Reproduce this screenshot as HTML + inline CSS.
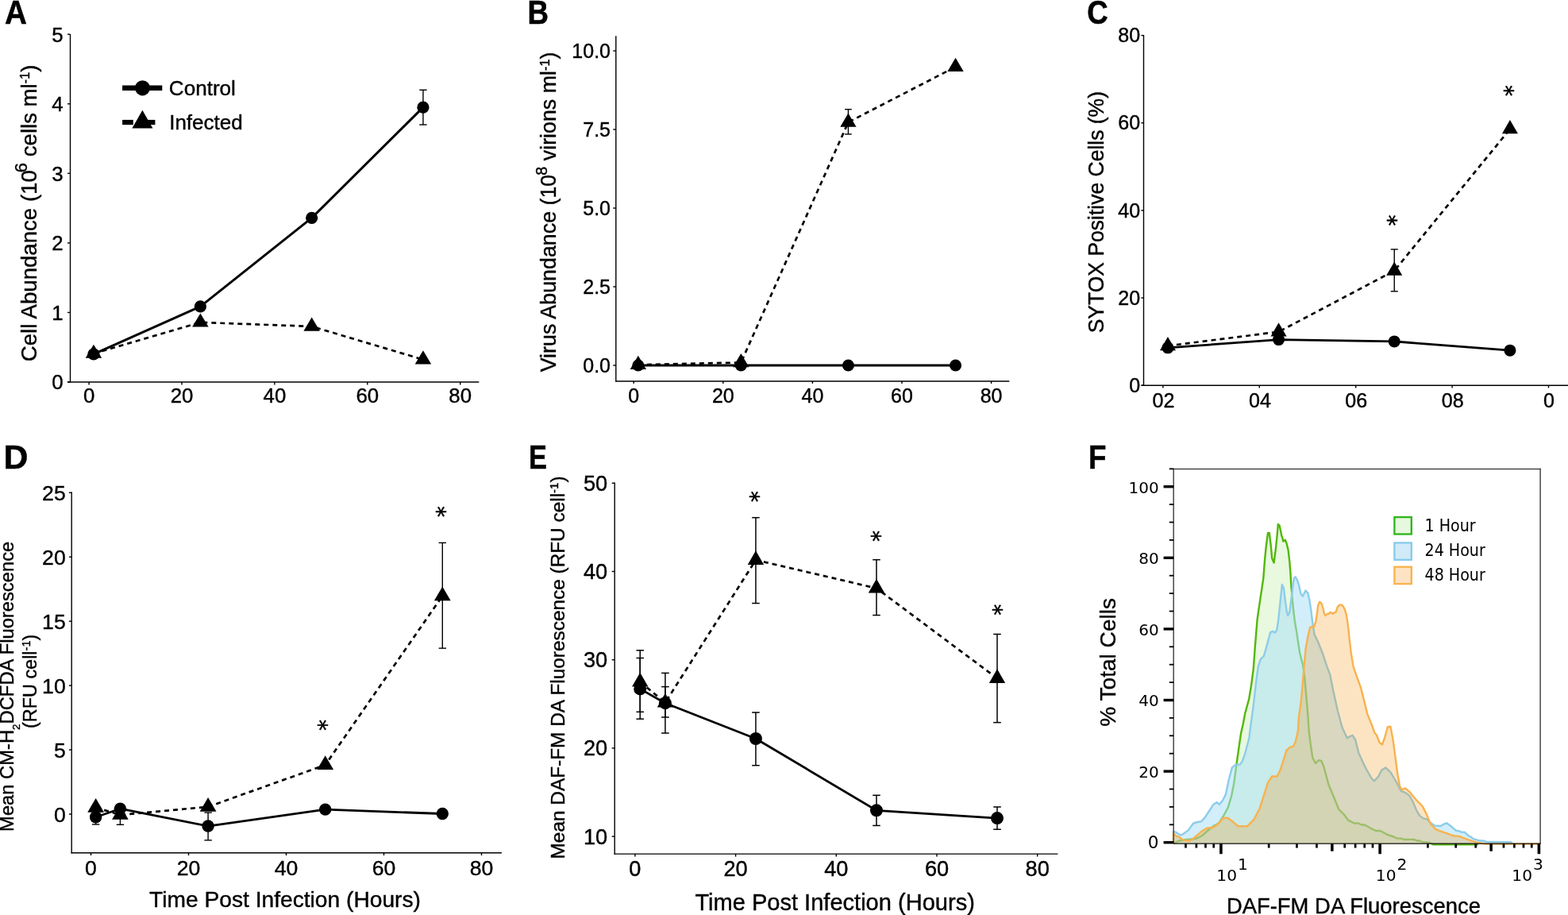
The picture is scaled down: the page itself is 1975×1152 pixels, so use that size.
<!DOCTYPE html><html><head><meta charset="utf-8"><title>Figure</title><style>html,body{margin:0;padding:0;background:#fff;overflow:hidden}svg{display:block}</style></head><body>
<svg width="1975" height="1152" viewBox="0 0 1975 1152">
<rect width="1975" height="1152" fill="#fff"/>
<text transform="translate(6.00,29.60) scale(0.9211428571428573,1)" font-family="'Liberation Sans', Arial, Helvetica, sans-serif" font-size="42" font-weight="bold" stroke="#000" stroke-width="0.5">A</text>
<text transform="translate(664.50,29.60) scale(0.8742857142857142,1)" font-family="'Liberation Sans', Arial, Helvetica, sans-serif" font-size="42" font-weight="bold" stroke="#000" stroke-width="0.5">B</text>
<text transform="translate(1369.30,29.60) scale(0.8742857142857142,1)" font-family="'Liberation Sans', Arial, Helvetica, sans-serif" font-size="42" font-weight="bold" stroke="#000" stroke-width="0.5">C</text>
<text transform="translate(4.50,590.00) scale(1.0190476190476192,1)" font-family="'Liberation Sans', Arial, Helvetica, sans-serif" font-size="42" font-weight="bold" stroke="#000" stroke-width="0.5">D</text>
<text transform="translate(666.00,589.60) scale(0.819047619047619,1)" font-family="'Liberation Sans', Arial, Helvetica, sans-serif" font-size="42" font-weight="bold" stroke="#000" stroke-width="0.5">E</text>
<text transform="translate(1371.00,589.60) scale(0.8761904761904763,1)" font-family="'Liberation Sans', Arial, Helvetica, sans-serif" font-size="42" font-weight="bold" stroke="#000" stroke-width="0.5">F</text>
<line x1="88.50" y1="43.00" x2="88.50" y2="481.60" stroke="#000" stroke-width="1.4" />
<line x1="85.00" y1="481.00" x2="603.30" y2="481.00" stroke="#000" stroke-width="1.4" />
<line x1="85.00" y1="481.00" x2="88.50" y2="481.00" stroke="#000" stroke-width="1.4" />
<text x="79.60" y="490.40" font-family="'Liberation Sans', Arial, Helvetica, sans-serif" font-size="25.8" font-weight="normal" text-anchor="end" fill="#000" stroke="#000" stroke-width="0.4" >0</text>
<line x1="85.00" y1="393.44" x2="88.50" y2="393.44" stroke="#000" stroke-width="1.4" />
<text x="79.60" y="402.84" font-family="'Liberation Sans', Arial, Helvetica, sans-serif" font-size="25.8" font-weight="normal" text-anchor="end" fill="#000" stroke="#000" stroke-width="0.4" >1</text>
<line x1="85.00" y1="305.88" x2="88.50" y2="305.88" stroke="#000" stroke-width="1.4" />
<text x="79.60" y="315.28" font-family="'Liberation Sans', Arial, Helvetica, sans-serif" font-size="25.8" font-weight="normal" text-anchor="end" fill="#000" stroke="#000" stroke-width="0.4" >2</text>
<line x1="85.00" y1="218.32" x2="88.50" y2="218.32" stroke="#000" stroke-width="1.4" />
<text x="79.60" y="227.72" font-family="'Liberation Sans', Arial, Helvetica, sans-serif" font-size="25.8" font-weight="normal" text-anchor="end" fill="#000" stroke="#000" stroke-width="0.4" >3</text>
<line x1="85.00" y1="130.76" x2="88.50" y2="130.76" stroke="#000" stroke-width="1.4" />
<text x="79.60" y="140.16" font-family="'Liberation Sans', Arial, Helvetica, sans-serif" font-size="25.8" font-weight="normal" text-anchor="end" fill="#000" stroke="#000" stroke-width="0.4" >4</text>
<line x1="85.00" y1="43.20" x2="88.50" y2="43.20" stroke="#000" stroke-width="1.4" />
<text x="79.60" y="52.60" font-family="'Liberation Sans', Arial, Helvetica, sans-serif" font-size="25.8" font-weight="normal" text-anchor="end" fill="#000" stroke="#000" stroke-width="0.4" >5</text>
<line x1="112.10" y1="481.00" x2="112.10" y2="484.60" stroke="#000" stroke-width="1.4" />
<text x="112.10" y="506.90" font-family="'Liberation Sans', Arial, Helvetica, sans-serif" font-size="25.8" font-weight="normal" text-anchor="middle" fill="#000" stroke="#000" stroke-width="0.4" >0</text>
<line x1="229.00" y1="481.00" x2="229.00" y2="484.60" stroke="#000" stroke-width="1.4" />
<text x="229.00" y="506.90" font-family="'Liberation Sans', Arial, Helvetica, sans-serif" font-size="25.8" font-weight="normal" text-anchor="middle" fill="#000" stroke="#000" stroke-width="0.4" >20</text>
<line x1="345.90" y1="481.00" x2="345.90" y2="484.60" stroke="#000" stroke-width="1.4" />
<text x="345.90" y="506.90" font-family="'Liberation Sans', Arial, Helvetica, sans-serif" font-size="25.8" font-weight="normal" text-anchor="middle" fill="#000" stroke="#000" stroke-width="0.4" >40</text>
<line x1="462.80" y1="481.00" x2="462.80" y2="484.60" stroke="#000" stroke-width="1.4" />
<text x="462.80" y="506.90" font-family="'Liberation Sans', Arial, Helvetica, sans-serif" font-size="25.8" font-weight="normal" text-anchor="middle" fill="#000" stroke="#000" stroke-width="0.4" >60</text>
<line x1="579.70" y1="481.00" x2="579.70" y2="484.60" stroke="#000" stroke-width="1.4" />
<text x="579.70" y="506.90" font-family="'Liberation Sans', Arial, Helvetica, sans-serif" font-size="25.8" font-weight="normal" text-anchor="middle" fill="#000" stroke="#000" stroke-width="0.4" >80</text>
<text transform="translate(45.80,455.20) rotate(-90)" x="0" y="0" font-family="'Liberation Sans', Arial, Helvetica, sans-serif" font-size="27.62" text-anchor="start" stroke="#000" stroke-width="0.4" >Cell Abundance (10<tspan dx="-3" dy="-11.9" font-size="22">6</tspan><tspan dy="11.9"> cells ml</tspan><tspan dy="-9.1" font-size="16.2">-1</tspan><tspan dy="9.1">)</tspan></text>
<line x1="154.10" y1="110.80" x2="204.30" y2="110.80" stroke="#000" stroke-width="6.4" />
<circle cx="179.50" cy="110.80" r="9.6" fill="#000"/>
<text x="212.80" y="120.10" font-family="'Liberation Sans', Arial, Helvetica, sans-serif" font-size="26.1" font-weight="normal" text-anchor="start" fill="#000" stroke="#000" stroke-width="0.4" >Control</text>
<line x1="154.10" y1="154.00" x2="167.80" y2="154.00" stroke="#000" stroke-width="6.2" />
<line x1="181.00" y1="154.00" x2="195.40" y2="154.00" stroke="#000" stroke-width="6.2" />
<polygon points="179.4,138.8 192.4,161.6 166.4,161.6" fill="#000"/>
<text x="213.20" y="163.20" font-family="'Liberation Sans', Arial, Helvetica, sans-serif" font-size="26.0" font-weight="normal" text-anchor="start" fill="#000" stroke="#000" stroke-width="0.4" >Infected</text>
<polyline points="117.94,445.10 252.38,405.87 392.66,410.95 532.94,452.72" fill="none" stroke="#000" stroke-width="2.7" stroke-linejoin="round" stroke-dasharray="6 5"/>
<polyline points="117.94,445.98 252.38,385.91 392.66,274.36 532.94,135.14" fill="none" stroke="#000" stroke-width="3.0" stroke-linejoin="round"/>
<line x1="532.94" y1="113.25" x2="532.94" y2="157.03" stroke="#000" stroke-width="1.4" />
<line x1="528.24" y1="113.25" x2="537.64" y2="113.25" stroke="#000" stroke-width="1.4" />
<line x1="528.24" y1="157.03" x2="537.64" y2="157.03" stroke="#000" stroke-width="1.4" />
<circle cx="117.94" cy="445.98" r="7.6" fill="#000"/>
<circle cx="252.38" cy="385.91" r="7.6" fill="#000"/>
<circle cx="392.66" cy="274.36" r="7.6" fill="#000"/>
<circle cx="532.94" cy="135.14" r="7.6" fill="#000"/>
<polygon points="117.94,433.63 128.19,450.83 107.69,450.83" fill="#000"/>
<polygon points="252.38,394.41 262.63,411.61 242.13,411.61" fill="#000"/>
<polygon points="392.66,399.49 402.91,416.69 382.41,416.69" fill="#000"/>
<polygon points="532.94,441.25 543.19,458.45 522.69,458.45" fill="#000"/>
<line x1="775.80" y1="45.30" x2="775.80" y2="480.60" stroke="#000" stroke-width="1.4" />
<line x1="775.20" y1="480.00" x2="1271.30" y2="480.00" stroke="#000" stroke-width="1.4" />
<line x1="772.30" y1="460.00" x2="775.80" y2="460.00" stroke="#000" stroke-width="1.4" />
<text x="769.00" y="469.10" font-family="'Liberation Sans', Arial, Helvetica, sans-serif" font-size="25.0" font-weight="normal" text-anchor="end" fill="#000" stroke="#000" stroke-width="0.4" >0.0</text>
<line x1="772.30" y1="361.00" x2="775.80" y2="361.00" stroke="#000" stroke-width="1.4" />
<text x="769.00" y="370.10" font-family="'Liberation Sans', Arial, Helvetica, sans-serif" font-size="25.0" font-weight="normal" text-anchor="end" fill="#000" stroke="#000" stroke-width="0.4" >2.5</text>
<line x1="772.30" y1="262.00" x2="775.80" y2="262.00" stroke="#000" stroke-width="1.4" />
<text x="769.00" y="271.10" font-family="'Liberation Sans', Arial, Helvetica, sans-serif" font-size="25.0" font-weight="normal" text-anchor="end" fill="#000" stroke="#000" stroke-width="0.4" >5.0</text>
<line x1="772.30" y1="163.00" x2="775.80" y2="163.00" stroke="#000" stroke-width="1.4" />
<text x="769.00" y="172.10" font-family="'Liberation Sans', Arial, Helvetica, sans-serif" font-size="25.0" font-weight="normal" text-anchor="end" fill="#000" stroke="#000" stroke-width="0.4" >7.5</text>
<line x1="772.30" y1="64.00" x2="775.80" y2="64.00" stroke="#000" stroke-width="1.4" />
<text x="769.00" y="73.10" font-family="'Liberation Sans', Arial, Helvetica, sans-serif" font-size="25.0" font-weight="normal" text-anchor="end" fill="#000" stroke="#000" stroke-width="0.4" >10.0</text>
<line x1="798.20" y1="480.00" x2="798.20" y2="483.00" stroke="#000" stroke-width="1.4" />
<text x="798.20" y="506.60" font-family="'Liberation Sans', Arial, Helvetica, sans-serif" font-size="25.0" font-weight="normal" text-anchor="middle" fill="#000" stroke="#000" stroke-width="0.4" >0</text>
<line x1="910.80" y1="480.00" x2="910.80" y2="483.00" stroke="#000" stroke-width="1.4" />
<text x="910.80" y="506.60" font-family="'Liberation Sans', Arial, Helvetica, sans-serif" font-size="25.0" font-weight="normal" text-anchor="middle" fill="#000" stroke="#000" stroke-width="0.4" >20</text>
<line x1="1023.40" y1="480.00" x2="1023.40" y2="483.00" stroke="#000" stroke-width="1.4" />
<text x="1023.40" y="506.60" font-family="'Liberation Sans', Arial, Helvetica, sans-serif" font-size="25.0" font-weight="normal" text-anchor="middle" fill="#000" stroke="#000" stroke-width="0.4" >40</text>
<line x1="1136.00" y1="480.00" x2="1136.00" y2="483.00" stroke="#000" stroke-width="1.4" />
<text x="1136.00" y="506.60" font-family="'Liberation Sans', Arial, Helvetica, sans-serif" font-size="25.0" font-weight="normal" text-anchor="middle" fill="#000" stroke="#000" stroke-width="0.4" >60</text>
<line x1="1248.60" y1="480.00" x2="1248.60" y2="483.00" stroke="#000" stroke-width="1.4" />
<text x="1248.60" y="506.60" font-family="'Liberation Sans', Arial, Helvetica, sans-serif" font-size="25.0" font-weight="normal" text-anchor="middle" fill="#000" stroke="#000" stroke-width="0.4" >80</text>
<text transform="translate(700.10,468.30) rotate(-90)" x="0" y="0" font-family="'Liberation Sans', Arial, Helvetica, sans-serif" font-size="26.84" text-anchor="start" stroke="#000" stroke-width="0.4" >Virus Abundance (10<tspan dx="-1" dy="-10.9" font-size="19.8">8</tspan><tspan dy="10.9"> virions ml</tspan><tspan dy="-8.4" font-size="16.2">-1</tspan><tspan dy="8.4">)</tspan></text>
<polyline points="803.83,459.21 933.32,456.44 1068.44,153.89 1203.56,84.20" fill="none" stroke="#000" stroke-width="2.7" stroke-linejoin="round" stroke-dasharray="6 5"/>
<polyline points="803.83,460.00 933.32,460.00 1068.44,460.00 1203.56,460.00" fill="none" stroke="#000" stroke-width="2.8" stroke-linejoin="round"/>
<line x1="1068.44" y1="137.66" x2="1068.44" y2="168.94" stroke="#000" stroke-width="1.4" />
<line x1="1064.09" y1="137.66" x2="1072.79" y2="137.66" stroke="#000" stroke-width="1.4" />
<line x1="1064.09" y1="168.94" x2="1072.79" y2="168.94" stroke="#000" stroke-width="1.4" />
<circle cx="803.83" cy="460.00" r="7.5" fill="#000"/>
<circle cx="933.32" cy="460.00" r="7.5" fill="#000"/>
<circle cx="1068.44" cy="460.00" r="7.5" fill="#000"/>
<circle cx="1203.56" cy="460.00" r="7.5" fill="#000"/>
<polygon points="803.83,447.74 813.98,464.94 793.68,464.94" fill="#000"/>
<polygon points="933.32,444.97 943.47,462.17 923.17,462.17" fill="#000"/>
<polygon points="1068.44,142.43 1078.59,159.63 1058.29,159.63" fill="#000"/>
<polygon points="1203.56,72.73 1213.71,89.93 1193.41,89.93" fill="#000"/>
<line x1="1440.50" y1="44.00" x2="1440.50" y2="485.80" stroke="#000" stroke-width="1.4" />
<line x1="1437.60" y1="485.20" x2="1975.00" y2="485.20" stroke="#000" stroke-width="1.4" />
<line x1="1437.40" y1="485.20" x2="1440.50" y2="485.20" stroke="#000" stroke-width="1.4" />
<text x="1436.10" y="493.90" font-family="'Liberation Sans', Arial, Helvetica, sans-serif" font-size="25.1" font-weight="normal" text-anchor="end" fill="#000" stroke="#000" stroke-width="0.4" >0</text>
<line x1="1437.40" y1="375.05" x2="1440.50" y2="375.05" stroke="#000" stroke-width="1.4" />
<text x="1436.10" y="383.75" font-family="'Liberation Sans', Arial, Helvetica, sans-serif" font-size="25.1" font-weight="normal" text-anchor="end" fill="#000" stroke="#000" stroke-width="0.4" >20</text>
<line x1="1437.40" y1="264.90" x2="1440.50" y2="264.90" stroke="#000" stroke-width="1.4" />
<text x="1436.10" y="273.60" font-family="'Liberation Sans', Arial, Helvetica, sans-serif" font-size="25.1" font-weight="normal" text-anchor="end" fill="#000" stroke="#000" stroke-width="0.4" >40</text>
<line x1="1437.40" y1="154.75" x2="1440.50" y2="154.75" stroke="#000" stroke-width="1.4" />
<text x="1436.10" y="163.45" font-family="'Liberation Sans', Arial, Helvetica, sans-serif" font-size="25.1" font-weight="normal" text-anchor="end" fill="#000" stroke="#000" stroke-width="0.4" >60</text>
<line x1="1437.40" y1="44.60" x2="1440.50" y2="44.60" stroke="#000" stroke-width="1.4" />
<text x="1436.10" y="53.30" font-family="'Liberation Sans', Arial, Helvetica, sans-serif" font-size="25.1" font-weight="normal" text-anchor="end" fill="#000" stroke="#000" stroke-width="0.4" >80</text>
<line x1="1464.90" y1="485.20" x2="1464.90" y2="488.40" stroke="#000" stroke-width="1.4" />
<text x="1465.50" y="512.60" font-family="'Liberation Sans', Arial, Helvetica, sans-serif" font-size="25.1" font-weight="normal" text-anchor="middle" fill="#000" stroke="#000" stroke-width="0.4" >02</text>
<line x1="1586.30" y1="485.20" x2="1586.30" y2="488.40" stroke="#000" stroke-width="1.4" />
<text x="1586.90" y="512.60" font-family="'Liberation Sans', Arial, Helvetica, sans-serif" font-size="25.1" font-weight="normal" text-anchor="middle" fill="#000" stroke="#000" stroke-width="0.4" >04</text>
<line x1="1707.70" y1="485.20" x2="1707.70" y2="488.40" stroke="#000" stroke-width="1.4" />
<text x="1708.30" y="512.60" font-family="'Liberation Sans', Arial, Helvetica, sans-serif" font-size="25.1" font-weight="normal" text-anchor="middle" fill="#000" stroke="#000" stroke-width="0.4" >06</text>
<line x1="1829.10" y1="485.20" x2="1829.10" y2="488.40" stroke="#000" stroke-width="1.4" />
<text x="1829.70" y="512.60" font-family="'Liberation Sans', Arial, Helvetica, sans-serif" font-size="25.1" font-weight="normal" text-anchor="middle" fill="#000" stroke="#000" stroke-width="0.4" >08</text>
<line x1="1950.50" y1="485.20" x2="1950.50" y2="488.40" stroke="#000" stroke-width="1.4" />
<text x="1951.10" y="512.60" font-family="'Liberation Sans', Arial, Helvetica, sans-serif" font-size="25.1" font-weight="normal" text-anchor="middle" fill="#000" stroke="#000" stroke-width="0.4" >0</text>
<text transform="translate(1389.70,419.30) rotate(-90) scale(1,1.07)" x="0" y="0" font-family="'Liberation Sans', Arial, Helvetica, sans-serif" font-size="26.5" text-anchor="start" stroke="#000" stroke-width="0.4" >SYTOX Positive Cells (%)</text>
<polyline points="1470.97,435.41 1610.58,417.73 1756.26,340.90 1901.94,162.46" fill="none" stroke="#000" stroke-width="2.7" stroke-linejoin="round" stroke-dasharray="6 5"/>
<polyline points="1470.97,437.84 1610.58,427.59 1756.26,429.90 1901.94,441.14" fill="none" stroke="#000" stroke-width="2.8" stroke-linejoin="round"/>
<line x1="1756.26" y1="313.92" x2="1756.26" y2="366.79" stroke="#000" stroke-width="1.4" />
<line x1="1751.76" y1="313.92" x2="1760.76" y2="313.92" stroke="#000" stroke-width="1.4" />
<line x1="1751.76" y1="366.79" x2="1760.76" y2="366.79" stroke="#000" stroke-width="1.4" />
<circle cx="1470.97" cy="437.84" r="7.5" fill="#000"/>
<circle cx="1610.58" cy="427.59" r="7.5" fill="#000"/>
<circle cx="1756.26" cy="429.90" r="7.5" fill="#000"/>
<circle cx="1901.94" cy="441.14" r="7.5" fill="#000"/>
<polygon points="1470.97,423.95 1480.97,441.15 1460.97,441.15" fill="#000"/>
<polygon points="1610.58,406.27 1620.58,423.47 1600.58,423.47" fill="#000"/>
<polygon points="1756.26,329.44 1766.26,346.64 1746.26,346.64" fill="#000"/>
<polygon points="1901.94,150.99 1911.94,168.19 1891.94,168.19" fill="#000"/>
<text transform="translate(1748.80,277.30) rotate(90)" x="0" y="0" font-family="'DejaVu Sans', Verdana, sans-serif" font-size="27.7" text-anchor="middle" dominant-baseline="central" stroke="#000" stroke-width="0.55">*</text>
<text transform="translate(1895.00,114.10) rotate(90)" x="0" y="0" font-family="'DejaVu Sans', Verdana, sans-serif" font-size="27.7" text-anchor="middle" dominant-baseline="central" stroke="#000" stroke-width="0.55">*</text>
<line x1="90.20" y1="619.60" x2="90.20" y2="1074.40" stroke="#000" stroke-width="1.4" />
<line x1="89.60" y1="1073.75" x2="631.90" y2="1073.75" stroke="#000" stroke-width="1.4" />
<line x1="86.90" y1="1025.00" x2="90.20" y2="1025.00" stroke="#000" stroke-width="1.4" />
<text x="82.70" y="1034.60" font-family="'Liberation Sans', Arial, Helvetica, sans-serif" font-size="26.6" font-weight="normal" text-anchor="end" fill="#000" stroke="#000" stroke-width="0.4" >0</text>
<line x1="86.90" y1="944.05" x2="90.20" y2="944.05" stroke="#000" stroke-width="1.4" />
<text x="82.70" y="953.65" font-family="'Liberation Sans', Arial, Helvetica, sans-serif" font-size="26.6" font-weight="normal" text-anchor="end" fill="#000" stroke="#000" stroke-width="0.4" >5</text>
<line x1="86.90" y1="863.10" x2="90.20" y2="863.10" stroke="#000" stroke-width="1.4" />
<text x="82.70" y="872.70" font-family="'Liberation Sans', Arial, Helvetica, sans-serif" font-size="26.6" font-weight="normal" text-anchor="end" fill="#000" stroke="#000" stroke-width="0.4" >10</text>
<line x1="86.90" y1="782.15" x2="90.20" y2="782.15" stroke="#000" stroke-width="1.4" />
<text x="82.70" y="791.75" font-family="'Liberation Sans', Arial, Helvetica, sans-serif" font-size="26.6" font-weight="normal" text-anchor="end" fill="#000" stroke="#000" stroke-width="0.4" >15</text>
<line x1="86.90" y1="701.20" x2="90.20" y2="701.20" stroke="#000" stroke-width="1.4" />
<text x="82.70" y="710.80" font-family="'Liberation Sans', Arial, Helvetica, sans-serif" font-size="26.6" font-weight="normal" text-anchor="end" fill="#000" stroke="#000" stroke-width="0.4" >20</text>
<line x1="86.90" y1="620.25" x2="90.20" y2="620.25" stroke="#000" stroke-width="1.4" />
<text x="82.70" y="629.85" font-family="'Liberation Sans', Arial, Helvetica, sans-serif" font-size="26.6" font-weight="normal" text-anchor="end" fill="#000" stroke="#000" stroke-width="0.4" >25</text>
<line x1="114.50" y1="1073.75" x2="114.50" y2="1077.00" stroke="#000" stroke-width="1.4" />
<text x="114.50" y="1102.20" font-family="'Liberation Sans', Arial, Helvetica, sans-serif" font-size="26.6" font-weight="normal" text-anchor="middle" fill="#000" stroke="#000" stroke-width="0.4" >0</text>
<line x1="237.50" y1="1073.75" x2="237.50" y2="1077.00" stroke="#000" stroke-width="1.4" />
<text x="237.50" y="1102.20" font-family="'Liberation Sans', Arial, Helvetica, sans-serif" font-size="26.6" font-weight="normal" text-anchor="middle" fill="#000" stroke="#000" stroke-width="0.4" >20</text>
<line x1="360.50" y1="1073.75" x2="360.50" y2="1077.00" stroke="#000" stroke-width="1.4" />
<text x="360.50" y="1102.20" font-family="'Liberation Sans', Arial, Helvetica, sans-serif" font-size="26.6" font-weight="normal" text-anchor="middle" fill="#000" stroke="#000" stroke-width="0.4" >40</text>
<line x1="483.50" y1="1073.75" x2="483.50" y2="1077.00" stroke="#000" stroke-width="1.4" />
<text x="483.50" y="1102.20" font-family="'Liberation Sans', Arial, Helvetica, sans-serif" font-size="26.6" font-weight="normal" text-anchor="middle" fill="#000" stroke="#000" stroke-width="0.4" >60</text>
<line x1="606.50" y1="1073.75" x2="606.50" y2="1077.00" stroke="#000" stroke-width="1.4" />
<text x="606.50" y="1102.20" font-family="'Liberation Sans', Arial, Helvetica, sans-serif" font-size="26.6" font-weight="normal" text-anchor="middle" fill="#000" stroke="#000" stroke-width="0.4" >80</text>
<text x="188.10" y="1142.10" font-family="'Liberation Sans', Arial, Helvetica, sans-serif" font-size="28.18" font-weight="normal" text-anchor="start" fill="#000" stroke="#000" stroke-width="0.4" >Time Post Infection (Hours)</text>
<text transform="translate(17.20,1046.90) rotate(-90)" x="0" y="0" font-family="'Liberation Sans', Arial, Helvetica, sans-serif" font-size="23.75" text-anchor="start" stroke="#000" stroke-width="0.4" >Mean CM-H<tspan dy="7.6" font-size="13.4">2</tspan><tspan dy="-7.6">DCFDA Fluorescence</tspan></text>
<text transform="translate(45.80,917.10) rotate(-90)" x="0" y="0" font-family="'Liberation Sans', Arial, Helvetica, sans-serif" font-size="23.45" text-anchor="start" stroke="#000" stroke-width="0.4" >(RFU cell<tspan dy="-7.74" font-size="14.54">-1</tspan><tspan dy="7.74">)</tspan></text>
<polyline points="120.65,1016.74 151.40,1025.97 262.10,1015.77 409.70,963.15 557.30,750.26" fill="none" stroke="#000" stroke-width="2.7" stroke-linejoin="round" stroke-dasharray="6 5"/>
<polyline points="120.65,1028.72 151.40,1018.20 262.10,1040.06 409.70,1019.17 557.30,1024.51" fill="none" stroke="#000" stroke-width="2.8" stroke-linejoin="round"/>
<line x1="120.65" y1="1019.50" x2="120.65" y2="1037.95" stroke="#000" stroke-width="1.4" />
<line x1="115.95" y1="1019.50" x2="125.35" y2="1019.50" stroke="#000" stroke-width="1.4" />
<line x1="115.95" y1="1037.95" x2="125.35" y2="1037.95" stroke="#000" stroke-width="1.4" />
<line x1="151.40" y1="1013.67" x2="151.40" y2="1038.28" stroke="#000" stroke-width="1.4" />
<line x1="146.70" y1="1013.67" x2="156.10" y2="1013.67" stroke="#000" stroke-width="1.4" />
<line x1="146.70" y1="1038.28" x2="156.10" y2="1038.28" stroke="#000" stroke-width="1.4" />
<line x1="262.10" y1="1023.06" x2="262.10" y2="1057.87" stroke="#000" stroke-width="1.4" />
<line x1="257.40" y1="1023.06" x2="266.80" y2="1023.06" stroke="#000" stroke-width="1.4" />
<line x1="257.40" y1="1057.87" x2="266.80" y2="1057.87" stroke="#000" stroke-width="1.4" />
<line x1="557.30" y1="683.39" x2="557.30" y2="816.15" stroke="#000" stroke-width="1.4" />
<line x1="552.60" y1="683.39" x2="562.00" y2="683.39" stroke="#000" stroke-width="1.4" />
<line x1="552.60" y1="816.15" x2="562.00" y2="816.15" stroke="#000" stroke-width="1.4" />
<circle cx="120.65" cy="1028.72" r="7.7" fill="#000"/>
<circle cx="151.40" cy="1018.20" r="7.7" fill="#000"/>
<circle cx="262.10" cy="1040.06" r="7.7" fill="#000"/>
<circle cx="409.70" cy="1019.17" r="7.7" fill="#000"/>
<circle cx="557.30" cy="1024.51" r="7.7" fill="#000"/>
<polygon points="120.65,1004.94 131.05,1022.64 110.25,1022.64" fill="#000"/>
<polygon points="151.40,1014.17 161.80,1031.87 141.00,1031.87" fill="#000"/>
<polygon points="262.10,1003.97 272.50,1021.67 251.70,1021.67" fill="#000"/>
<polygon points="409.70,951.35 420.10,969.05 399.30,969.05" fill="#000"/>
<polygon points="557.30,738.46 567.70,756.16 546.90,756.16" fill="#000"/>
<text transform="translate(401.80,912.80) rotate(90)" x="0" y="0" font-family="'DejaVu Sans', Verdana, sans-serif" font-size="27.7" text-anchor="middle" dominant-baseline="central" stroke="#000" stroke-width="0.55">*</text>
<text transform="translate(550.10,644.20) rotate(90)" x="0" y="0" font-family="'DejaVu Sans', Verdana, sans-serif" font-size="27.7" text-anchor="middle" dominant-baseline="central" stroke="#000" stroke-width="0.55">*</text>
<line x1="774.20" y1="607.50" x2="774.20" y2="1075.70" stroke="#000" stroke-width="1.4" />
<line x1="773.60" y1="1075.10" x2="1332.40" y2="1075.10" stroke="#000" stroke-width="1.4" />
<line x1="770.70" y1="1053.10" x2="774.20" y2="1053.10" stroke="#000" stroke-width="1.4" />
<text x="765.20" y="1062.50" font-family="'Liberation Sans', Arial, Helvetica, sans-serif" font-size="27.2" font-weight="normal" text-anchor="end" fill="#000" stroke="#000" stroke-width="0.4" >10</text>
<line x1="770.70" y1="941.90" x2="774.20" y2="941.90" stroke="#000" stroke-width="1.4" />
<text x="765.20" y="951.30" font-family="'Liberation Sans', Arial, Helvetica, sans-serif" font-size="27.2" font-weight="normal" text-anchor="end" fill="#000" stroke="#000" stroke-width="0.4" >20</text>
<line x1="770.70" y1="830.70" x2="774.20" y2="830.70" stroke="#000" stroke-width="1.4" />
<text x="765.20" y="840.10" font-family="'Liberation Sans', Arial, Helvetica, sans-serif" font-size="27.2" font-weight="normal" text-anchor="end" fill="#000" stroke="#000" stroke-width="0.4" >30</text>
<line x1="770.70" y1="719.50" x2="774.20" y2="719.50" stroke="#000" stroke-width="1.4" />
<text x="765.20" y="728.90" font-family="'Liberation Sans', Arial, Helvetica, sans-serif" font-size="27.2" font-weight="normal" text-anchor="end" fill="#000" stroke="#000" stroke-width="0.4" >40</text>
<line x1="770.70" y1="608.30" x2="774.20" y2="608.30" stroke="#000" stroke-width="1.4" />
<text x="765.20" y="617.70" font-family="'Liberation Sans', Arial, Helvetica, sans-serif" font-size="27.2" font-weight="normal" text-anchor="end" fill="#000" stroke="#000" stroke-width="0.4" >50</text>
<line x1="799.90" y1="1075.10" x2="799.90" y2="1078.60" stroke="#000" stroke-width="1.4" />
<text x="799.90" y="1103.40" font-family="'Liberation Sans', Arial, Helvetica, sans-serif" font-size="27.2" font-weight="normal" text-anchor="middle" fill="#000" stroke="#000" stroke-width="0.4" >0</text>
<line x1="926.60" y1="1075.10" x2="926.60" y2="1078.60" stroke="#000" stroke-width="1.4" />
<text x="926.60" y="1103.40" font-family="'Liberation Sans', Arial, Helvetica, sans-serif" font-size="27.2" font-weight="normal" text-anchor="middle" fill="#000" stroke="#000" stroke-width="0.4" >20</text>
<line x1="1053.30" y1="1075.10" x2="1053.30" y2="1078.60" stroke="#000" stroke-width="1.4" />
<text x="1053.30" y="1103.40" font-family="'Liberation Sans', Arial, Helvetica, sans-serif" font-size="27.2" font-weight="normal" text-anchor="middle" fill="#000" stroke="#000" stroke-width="0.4" >40</text>
<line x1="1180.00" y1="1075.10" x2="1180.00" y2="1078.60" stroke="#000" stroke-width="1.4" />
<text x="1180.00" y="1103.40" font-family="'Liberation Sans', Arial, Helvetica, sans-serif" font-size="27.2" font-weight="normal" text-anchor="middle" fill="#000" stroke="#000" stroke-width="0.4" >60</text>
<line x1="1306.70" y1="1075.10" x2="1306.70" y2="1078.60" stroke="#000" stroke-width="1.4" />
<text x="1306.70" y="1103.40" font-family="'Liberation Sans', Arial, Helvetica, sans-serif" font-size="27.2" font-weight="normal" text-anchor="middle" fill="#000" stroke="#000" stroke-width="0.4" >80</text>
<text x="875.40" y="1146.00" font-family="'Liberation Sans', Arial, Helvetica, sans-serif" font-size="29.05" font-weight="normal" text-anchor="start" fill="#000" stroke="#000" stroke-width="0.4" >Time Post Infection (Hours)</text>
<text transform="translate(710.60,1081.45) rotate(-90)" x="0" y="0" font-family="'Liberation Sans', Arial, Helvetica, sans-serif" font-size="24.38" text-anchor="start" stroke="#000" stroke-width="0.4" >Mean DAF-FM DA Fluorescence (RFU cell<tspan dy="-8.05" font-size="15.12">-1</tspan><tspan dy="8.05">)</tspan></text>
<polyline points="806.24,858.50 837.91,884.63 951.94,705.04 1103.98,740.63 1256.02,854.05" fill="none" stroke="#000" stroke-width="2.7" stroke-linejoin="round" stroke-dasharray="6 5"/>
<polyline points="806.24,867.40 837.91,885.19 951.94,930.00 1103.98,1020.30 1256.02,1030.08" fill="none" stroke="#000" stroke-width="2.8" stroke-linejoin="round"/>
<line x1="806.24" y1="818.80" x2="806.24" y2="896.31" stroke="#000" stroke-width="1.5" />
<line x1="801.44" y1="818.80" x2="811.03" y2="818.80" stroke="#000" stroke-width="1.5" />
<line x1="801.44" y1="896.31" x2="811.03" y2="896.31" stroke="#000" stroke-width="1.5" />
<line x1="837.91" y1="847.38" x2="837.91" y2="923.00" stroke="#000" stroke-width="1.5" />
<line x1="833.11" y1="847.38" x2="842.71" y2="847.38" stroke="#000" stroke-width="1.5" />
<line x1="833.11" y1="923.00" x2="842.71" y2="923.00" stroke="#000" stroke-width="1.5" />
<line x1="951.94" y1="651.67" x2="951.94" y2="759.53" stroke="#000" stroke-width="1.5" />
<line x1="947.14" y1="651.67" x2="956.74" y2="651.67" stroke="#000" stroke-width="1.5" />
<line x1="947.14" y1="759.53" x2="956.74" y2="759.53" stroke="#000" stroke-width="1.5" />
<line x1="1103.98" y1="704.71" x2="1103.98" y2="774.54" stroke="#000" stroke-width="1.5" />
<line x1="1099.18" y1="704.71" x2="1108.78" y2="704.71" stroke="#000" stroke-width="1.5" />
<line x1="1099.18" y1="774.54" x2="1108.78" y2="774.54" stroke="#000" stroke-width="1.5" />
<line x1="1256.02" y1="798.45" x2="1256.02" y2="909.65" stroke="#000" stroke-width="1.5" />
<line x1="1251.22" y1="798.45" x2="1260.82" y2="798.45" stroke="#000" stroke-width="1.5" />
<line x1="1251.22" y1="909.65" x2="1260.82" y2="909.65" stroke="#000" stroke-width="1.5" />
<line x1="806.24" y1="828.48" x2="806.24" y2="905.20" stroke="#000" stroke-width="1.5" />
<line x1="801.44" y1="828.48" x2="811.03" y2="828.48" stroke="#000" stroke-width="1.5" />
<line x1="801.44" y1="905.20" x2="811.03" y2="905.20" stroke="#000" stroke-width="1.5" />
<line x1="837.91" y1="864.62" x2="837.91" y2="902.98" stroke="#000" stroke-width="1.5" />
<line x1="833.11" y1="864.62" x2="842.71" y2="864.62" stroke="#000" stroke-width="1.5" />
<line x1="833.11" y1="902.98" x2="842.71" y2="902.98" stroke="#000" stroke-width="1.5" />
<line x1="951.94" y1="896.98" x2="951.94" y2="963.70" stroke="#000" stroke-width="1.5" />
<line x1="947.14" y1="896.98" x2="956.74" y2="896.98" stroke="#000" stroke-width="1.5" />
<line x1="947.14" y1="963.70" x2="956.74" y2="963.70" stroke="#000" stroke-width="1.5" />
<line x1="1103.98" y1="1001.28" x2="1103.98" y2="1039.42" stroke="#000" stroke-width="1.5" />
<line x1="1099.18" y1="1001.28" x2="1108.78" y2="1001.28" stroke="#000" stroke-width="1.5" />
<line x1="1099.18" y1="1039.42" x2="1108.78" y2="1039.42" stroke="#000" stroke-width="1.5" />
<line x1="1256.02" y1="1015.96" x2="1256.02" y2="1044.20" stroke="#000" stroke-width="1.5" />
<line x1="1251.22" y1="1015.96" x2="1260.82" y2="1015.96" stroke="#000" stroke-width="1.5" />
<line x1="1251.22" y1="1044.20" x2="1260.82" y2="1044.20" stroke="#000" stroke-width="1.5" />
<circle cx="806.24" cy="867.40" r="8.0" fill="#000"/>
<circle cx="837.91" cy="885.19" r="8.0" fill="#000"/>
<circle cx="951.94" cy="930.00" r="8.0" fill="#000"/>
<circle cx="1103.98" cy="1020.30" r="8.0" fill="#000"/>
<circle cx="1256.02" cy="1030.08" r="8.0" fill="#000"/>
<polygon points="806.24,846.63 816.44,864.43 796.03,864.43" fill="#000"/>
<polygon points="837.91,872.77 848.11,890.57 827.71,890.57" fill="#000"/>
<polygon points="951.94,693.18 962.14,710.98 941.74,710.98" fill="#000"/>
<polygon points="1103.98,728.76 1114.18,746.56 1093.78,746.56" fill="#000"/>
<polygon points="1256.02,842.19 1266.22,859.99 1245.82,859.99" fill="#000"/>
<text transform="translate(945.90,625.20) rotate(90)" x="0" y="0" font-family="'DejaVu Sans', Verdana, sans-serif" font-size="27.7" text-anchor="middle" dominant-baseline="central" stroke="#000" stroke-width="0.55">*</text>
<text transform="translate(1098.80,674.90) rotate(90)" x="0" y="0" font-family="'DejaVu Sans', Verdana, sans-serif" font-size="27.7" text-anchor="middle" dominant-baseline="central" stroke="#000" stroke-width="0.55">*</text>
<text transform="translate(1251.10,767.60) rotate(90)" x="0" y="0" font-family="'DejaVu Sans', Verdana, sans-serif" font-size="27.7" text-anchor="middle" dominant-baseline="central" stroke="#000" stroke-width="0.55">*</text>
<g>
<polygon points="1478.00,1062.00 1478.90,1061.60 1484.80,1058.70 1492.10,1057.20 1499.50,1056.50 1506.90,1055.70 1514.30,1052.00 1521.70,1045.40 1529.00,1039.50 1535.00,1036.50 1540.80,1027.70 1546.80,1016.60 1551.20,1001.80 1554.10,987.10 1557.10,964.90 1560.00,944.30 1563.00,923.60 1565.60,912.00 1568.30,898.00 1573.20,880.00 1576.00,863.30 1578.75,842.50 1580.80,814.70 1583.60,780.00 1586.00,763.30 1591.30,728.10 1593.10,704.70 1594.60,689.50 1596.10,677.40 1597.00,671.00 1598.80,671.00 1600.70,686.50 1602.20,702.90 1604.60,708.40 1606.70,692.60 1608.60,674.30 1609.80,660.00 1611.60,661.60 1614.00,673.10 1616.50,681.60 1618.90,679.80 1620.70,684.70 1622.60,692.60 1624.40,707.80 1625.30,720.00 1626.40,737.40 1627.80,754.70 1629.20,768.60 1630.90,782.50 1633.30,796.40 1637.10,821.70 1641.25,838.30 1643.30,853.60 1645.40,877.20 1647.50,902.20 1648.60,920.00 1650.60,935.60 1653.20,953.90 1657.10,961.00 1661.00,957.10 1664.30,957.80 1667.50,965.60 1673.40,987.70 1679.90,1003.30 1686.40,1019.00 1692.90,1025.50 1698.10,1032.60 1705.90,1036.50 1711.10,1036.50 1715.00,1038.50 1719.00,1038.50 1728.10,1043.70 1733.30,1046.00 1738.50,1046.00 1747.60,1050.90 1755.40,1053.50 1759.30,1055.40 1765.80,1055.70 1768.40,1057.00 1781.20,1056.90 1784.00,1058.30 1788.90,1058.80 1791.70,1060.20 1800.40,1060.70 1805.00,1063.20 1862.00,1063.20 1862.00,1062.30 1478.00,1062.30" fill="rgb(75,205,2)" fill-opacity="0.126"/>
<polyline points="1478.00,1062.00 1478.90,1061.60 1484.80,1058.70 1492.10,1057.20 1499.50,1056.50 1506.90,1055.70 1514.30,1052.00 1521.70,1045.40 1529.00,1039.50 1535.00,1036.50 1540.80,1027.70 1546.80,1016.60 1551.20,1001.80 1554.10,987.10 1557.10,964.90 1560.00,944.30 1563.00,923.60 1565.60,912.00 1568.30,898.00 1573.20,880.00 1576.00,863.30 1578.75,842.50 1580.80,814.70 1583.60,780.00 1586.00,763.30 1591.30,728.10 1593.10,704.70 1594.60,689.50 1596.10,677.40 1597.00,671.00 1598.80,671.00 1600.70,686.50 1602.20,702.90 1604.60,708.40 1606.70,692.60 1608.60,674.30 1609.80,660.00 1611.60,661.60 1614.00,673.10 1616.50,681.60 1618.90,679.80 1620.70,684.70 1622.60,692.60 1624.40,707.80 1625.30,720.00 1626.40,737.40 1627.80,754.70 1629.20,768.60 1630.90,782.50 1633.30,796.40 1637.10,821.70 1641.25,838.30 1643.30,853.60 1645.40,877.20 1647.50,902.20 1648.60,920.00 1650.60,935.60 1653.20,953.90 1657.10,961.00 1661.00,957.10 1664.30,957.80 1667.50,965.60 1673.40,987.70 1679.90,1003.30 1686.40,1019.00 1692.90,1025.50 1698.10,1032.60 1705.90,1036.50 1711.10,1036.50 1715.00,1038.50 1719.00,1038.50 1728.10,1043.70 1733.30,1046.00 1738.50,1046.00 1747.60,1050.90 1755.40,1053.50 1759.30,1055.40 1765.80,1055.70 1768.40,1057.00 1781.20,1056.90 1784.00,1058.30 1788.90,1058.80 1791.70,1060.20 1800.40,1060.70 1805.00,1063.20 1862.00,1063.20" fill="none" stroke="#52b80a" stroke-width="2.4" stroke-linejoin="round"/>
<polygon points="1478.00,1062.00 1478.10,1046.90 1481.10,1047.60 1484.00,1049.80 1487.00,1051.30 1490.70,1049.80 1496.60,1045.40 1503.20,1036.50 1508.40,1035.00 1512.80,1034.30 1517.20,1029.90 1523.10,1021.00 1528.30,1012.90 1532.70,1010.00 1535.70,1012.90 1540.10,1007.70 1543.80,1000.40 1547.50,982.70 1551.90,966.40 1556.30,962.70 1561.50,962.70 1564.50,959.00 1568.20,948.70 1573.30,929.50 1575.30,913.30 1578.00,893.90 1580.80,870.30 1582.90,852.20 1585.00,838.30 1587.80,830.00 1591.90,825.80 1594.70,816.10 1598.90,800.80 1600.00,796.40 1602.80,794.70 1605.90,796.70 1608.30,792.90 1610.40,779.00 1612.50,758.20 1614.90,736.00 1617.00,740.80 1619.10,758.20 1620.80,770.00 1622.20,774.90 1624.30,770.70 1626.40,754.70 1628.50,737.40 1629.90,728.30 1631.60,726.25 1634.00,730.40 1636.10,736.70 1638.50,747.80 1641.00,750.60 1644.40,743.60 1647.20,746.40 1649.30,754.70 1651.40,768.60 1653.50,786.00 1655.80,799.40 1660.00,807.80 1665.60,821.70 1671.10,838.30 1675.30,849.40 1679.40,870.30 1685.00,895.30 1690.60,916.10 1696.80,929.30 1700.30,927.20 1703.75,925.80 1707.20,931.40 1711.10,947.20 1716.70,959.70 1720.80,968.10 1727.10,979.20 1730.60,983.30 1736.10,977.80 1740.30,969.40 1745.10,966.40 1751.40,972.20 1756.90,981.25 1761.10,988.90 1764.60,995.80 1770.10,997.90 1775.00,1001.40 1779.20,1008.50 1784.00,1019.80 1787.90,1026.60 1792.70,1030.40 1797.50,1031.40 1802.30,1036.20 1807.10,1039.50 1814.80,1040.00 1817.70,1038.10 1822.10,1036.20 1827.30,1040.00 1834.10,1045.80 1837.90,1046.30 1840.80,1047.70 1844.70,1047.70 1849.50,1052.00 1852.40,1053.50 1856.20,1056.40 1860.00,1057.30 1862.90,1058.30 1869.70,1058.80 1872.60,1060.00 1903.30,1060.20 1905.00,1062.00" fill="rgb(173,224,246)" fill-opacity="0.545"/>
<polyline points="1478.00,1062.00 1478.10,1046.90 1481.10,1047.60 1484.00,1049.80 1487.00,1051.30 1490.70,1049.80 1496.60,1045.40 1503.20,1036.50 1508.40,1035.00 1512.80,1034.30 1517.20,1029.90 1523.10,1021.00 1528.30,1012.90 1532.70,1010.00 1535.70,1012.90 1540.10,1007.70 1543.80,1000.40 1547.50,982.70 1551.90,966.40 1556.30,962.70 1561.50,962.70 1564.50,959.00 1568.20,948.70 1573.30,929.50 1575.30,913.30 1578.00,893.90 1580.80,870.30 1582.90,852.20 1585.00,838.30 1587.80,830.00 1591.90,825.80 1594.70,816.10 1598.90,800.80 1600.00,796.40 1602.80,794.70 1605.90,796.70 1608.30,792.90 1610.40,779.00 1612.50,758.20 1614.90,736.00 1617.00,740.80 1619.10,758.20 1620.80,770.00 1622.20,774.90 1624.30,770.70 1626.40,754.70 1628.50,737.40 1629.90,728.30 1631.60,726.25 1634.00,730.40 1636.10,736.70 1638.50,747.80 1641.00,750.60 1644.40,743.60 1647.20,746.40 1649.30,754.70 1651.40,768.60 1653.50,786.00 1655.80,799.40 1660.00,807.80 1665.60,821.70 1671.10,838.30 1675.30,849.40 1679.40,870.30 1685.00,895.30 1690.60,916.10 1696.80,929.30 1700.30,927.20 1703.75,925.80 1707.20,931.40 1711.10,947.20 1716.70,959.70 1720.80,968.10 1727.10,979.20 1730.60,983.30 1736.10,977.80 1740.30,969.40 1745.10,966.40 1751.40,972.20 1756.90,981.25 1761.10,988.90 1764.60,995.80 1770.10,997.90 1775.00,1001.40 1779.20,1008.50 1784.00,1019.80 1787.90,1026.60 1792.70,1030.40 1797.50,1031.40 1802.30,1036.20 1807.10,1039.50 1814.80,1040.00 1817.70,1038.10 1822.10,1036.20 1827.30,1040.00 1834.10,1045.80 1837.90,1046.30 1840.80,1047.70 1844.70,1047.70 1849.50,1052.00 1852.40,1053.50 1856.20,1056.40 1860.00,1057.30 1862.90,1058.30 1869.70,1058.80 1872.60,1060.00 1903.30,1060.20 1905.00,1062.00" fill="none" stroke="#8dcdea" stroke-width="2.4" stroke-linejoin="round"/>
<polygon points="1478.00,1062.00 1478.00,1049.10 1481.80,1052.80 1484.80,1053.50 1488.50,1056.50 1492.10,1057.90 1498.00,1058.70 1504.00,1055.00 1514.30,1046.10 1520.90,1042.40 1528.30,1041.70 1533.50,1038.00 1540.80,1029.90 1546.00,1029.60 1552.70,1034.30 1559.30,1040.20 1571.10,1040.20 1579.20,1032.10 1586.60,1018.10 1596.90,985.60 1602.10,977.50 1608.70,977.50 1613.20,967.90 1620.60,944.30 1625.00,940.60 1628.70,939.90 1631.70,934.30 1635.00,920.00 1635.70,905.00 1638.50,885.60 1640.60,863.30 1642.60,838.30 1644.70,816.10 1647.50,800.80 1650.00,790.00 1652.10,789.00 1655.20,789.00 1657.30,782.70 1658.90,772.30 1660.20,761.90 1662.20,757.70 1664.60,759.80 1666.10,764.50 1668.00,772.80 1669.50,774.90 1671.90,772.80 1673.70,772.80 1675.50,771.00 1677.10,771.25 1678.60,772.80 1680.70,771.25 1682.60,770.70 1684.60,764.50 1686.50,762.40 1688.50,761.40 1690.60,761.90 1692.20,764.00 1694.30,768.60 1695.80,773.90 1697.10,781.70 1698.40,792.10 1699.20,800.00 1701.70,821.70 1704.40,838.30 1708.60,850.80 1713.90,865.30 1718.10,881.90 1722.20,898.60 1727.80,912.50 1731.25,922.20 1734.00,925.70 1737.50,934.70 1741.00,937.50 1744.40,927.80 1747.90,915.30 1751.40,914.60 1754.90,933.30 1757.60,954.20 1760.40,975.00 1763.20,990.30 1766.00,994.40 1770.10,992.40 1775.70,997.20 1779.20,1001.40 1784.00,1007.30 1791.70,1015.00 1796.60,1024.60 1801.40,1036.20 1804.30,1040.00 1808.10,1043.90 1812.90,1045.80 1817.70,1047.70 1822.50,1049.20 1827.30,1051.10 1832.20,1052.50 1838.90,1053.00 1842.70,1054.90 1848.50,1056.90 1854.30,1058.80 1860.00,1060.70 1863.90,1061.20 1870.00,1062.60 1940.00,1062.60" fill="rgb(244,142,0)" fill-opacity="0.234"/>
<polyline points="1478.00,1062.00 1478.00,1049.10 1481.80,1052.80 1484.80,1053.50 1488.50,1056.50 1492.10,1057.90 1498.00,1058.70 1504.00,1055.00 1514.30,1046.10 1520.90,1042.40 1528.30,1041.70 1533.50,1038.00 1540.80,1029.90 1546.00,1029.60 1552.70,1034.30 1559.30,1040.20 1571.10,1040.20 1579.20,1032.10 1586.60,1018.10 1596.90,985.60 1602.10,977.50 1608.70,977.50 1613.20,967.90 1620.60,944.30 1625.00,940.60 1628.70,939.90 1631.70,934.30 1635.00,920.00 1635.70,905.00 1638.50,885.60 1640.60,863.30 1642.60,838.30 1644.70,816.10 1647.50,800.80 1650.00,790.00 1652.10,789.00 1655.20,789.00 1657.30,782.70 1658.90,772.30 1660.20,761.90 1662.20,757.70 1664.60,759.80 1666.10,764.50 1668.00,772.80 1669.50,774.90 1671.90,772.80 1673.70,772.80 1675.50,771.00 1677.10,771.25 1678.60,772.80 1680.70,771.25 1682.60,770.70 1684.60,764.50 1686.50,762.40 1688.50,761.40 1690.60,761.90 1692.20,764.00 1694.30,768.60 1695.80,773.90 1697.10,781.70 1698.40,792.10 1699.20,800.00 1701.70,821.70 1704.40,838.30 1708.60,850.80 1713.90,865.30 1718.10,881.90 1722.20,898.60 1727.80,912.50 1731.25,922.20 1734.00,925.70 1737.50,934.70 1741.00,937.50 1744.40,927.80 1747.90,915.30 1751.40,914.60 1754.90,933.30 1757.60,954.20 1760.40,975.00 1763.20,990.30 1766.00,994.40 1770.10,992.40 1775.70,997.20 1779.20,1001.40 1784.00,1007.30 1791.70,1015.00 1796.60,1024.60 1801.40,1036.20 1804.30,1040.00 1808.10,1043.90 1812.90,1045.80 1817.70,1047.70 1822.50,1049.20 1827.30,1051.10 1832.20,1052.50 1838.90,1053.00 1842.70,1054.90 1848.50,1056.90 1854.30,1058.80 1860.00,1060.70 1863.90,1061.20 1870.00,1062.60 1940.00,1062.60" fill="none" stroke="#f8b24e" stroke-width="2.4" stroke-linejoin="round"/>
</g>
<line x1="1478.20" y1="590.40" x2="1940.80" y2="590.40" stroke="#484644" stroke-width="1.5" />
<line x1="1940.10" y1="589.70" x2="1940.10" y2="1062.20" stroke="#484644" stroke-width="1.5" />
<line x1="1478.20" y1="589.70" x2="1478.20" y2="1062.20" stroke="#484644" stroke-width="1.5" />
<line x1="1478.20" y1="1062.20" x2="1940.70" y2="1062.20" stroke="#111" stroke-width="1.3" />
<line x1="1465.60" y1="1060.70" x2="1478.20" y2="1060.70" stroke="#000" stroke-width="3.4" />
<text x="1459.60" y="1067.60" font-family="'DejaVu Sans', Verdana, sans-serif" font-size="21.6" font-weight="normal" text-anchor="end" fill="#000" >0</text>
<line x1="1472.80" y1="1038.30" x2="1478.20" y2="1038.30" stroke="#000" stroke-width="1.8" />
<line x1="1472.80" y1="1015.90" x2="1478.20" y2="1015.90" stroke="#000" stroke-width="1.8" />
<line x1="1472.80" y1="993.50" x2="1478.20" y2="993.50" stroke="#000" stroke-width="1.8" />
<line x1="1465.60" y1="971.10" x2="1478.20" y2="971.10" stroke="#000" stroke-width="3.4" />
<text x="1459.80" y="979.00" font-family="'DejaVu Sans', Verdana, sans-serif" font-size="20.0" font-weight="normal" text-anchor="end" fill="#000" >20</text>
<line x1="1472.80" y1="948.70" x2="1478.20" y2="948.70" stroke="#000" stroke-width="1.8" />
<line x1="1472.80" y1="926.30" x2="1478.20" y2="926.30" stroke="#000" stroke-width="1.8" />
<line x1="1472.80" y1="903.90" x2="1478.20" y2="903.90" stroke="#000" stroke-width="1.8" />
<line x1="1465.60" y1="881.50" x2="1478.20" y2="881.50" stroke="#000" stroke-width="3.4" />
<text x="1459.80" y="889.40" font-family="'DejaVu Sans', Verdana, sans-serif" font-size="20.0" font-weight="normal" text-anchor="end" fill="#000" >40</text>
<line x1="1472.80" y1="859.10" x2="1478.20" y2="859.10" stroke="#000" stroke-width="1.8" />
<line x1="1472.80" y1="836.70" x2="1478.20" y2="836.70" stroke="#000" stroke-width="1.8" />
<line x1="1472.80" y1="814.30" x2="1478.20" y2="814.30" stroke="#000" stroke-width="1.8" />
<line x1="1465.60" y1="791.90" x2="1478.20" y2="791.90" stroke="#000" stroke-width="3.4" />
<text x="1459.80" y="799.80" font-family="'DejaVu Sans', Verdana, sans-serif" font-size="20.0" font-weight="normal" text-anchor="end" fill="#000" >60</text>
<line x1="1472.80" y1="769.50" x2="1478.20" y2="769.50" stroke="#000" stroke-width="1.8" />
<line x1="1472.80" y1="747.10" x2="1478.20" y2="747.10" stroke="#000" stroke-width="1.8" />
<line x1="1472.80" y1="724.70" x2="1478.20" y2="724.70" stroke="#000" stroke-width="1.8" />
<line x1="1465.60" y1="702.30" x2="1478.20" y2="702.30" stroke="#000" stroke-width="3.4" />
<text x="1459.80" y="710.20" font-family="'DejaVu Sans', Verdana, sans-serif" font-size="20.0" font-weight="normal" text-anchor="end" fill="#000" >80</text>
<line x1="1472.80" y1="679.90" x2="1478.20" y2="679.90" stroke="#000" stroke-width="1.8" />
<line x1="1472.80" y1="657.50" x2="1478.20" y2="657.50" stroke="#000" stroke-width="1.8" />
<line x1="1472.80" y1="635.10" x2="1478.20" y2="635.10" stroke="#000" stroke-width="1.8" />
<line x1="1465.60" y1="612.70" x2="1478.20" y2="612.70" stroke="#000" stroke-width="3.4" />
<text x="1459.80" y="620.60" font-family="'DejaVu Sans', Verdana, sans-serif" font-size="20.0" font-weight="normal" text-anchor="end" fill="#000" >100</text>
<line x1="1472.80" y1="590.30" x2="1478.20" y2="590.30" stroke="#000" stroke-width="1.8" />
<line x1="1493.47" y1="1062.20" x2="1493.47" y2="1067.50" stroke="#000" stroke-width="2.7" />
<line x1="1506.88" y1="1062.20" x2="1506.88" y2="1067.50" stroke="#000" stroke-width="2.7" />
<line x1="1518.49" y1="1062.20" x2="1518.49" y2="1067.50" stroke="#000" stroke-width="2.7" />
<line x1="1528.74" y1="1062.20" x2="1528.74" y2="1067.50" stroke="#000" stroke-width="2.7" />
<line x1="1537.90" y1="1062.20" x2="1537.90" y2="1075.20" stroke="#000" stroke-width="3.6" />
<line x1="1598.18" y1="1062.20" x2="1598.18" y2="1067.50" stroke="#000" stroke-width="2.7" />
<line x1="1633.44" y1="1062.20" x2="1633.44" y2="1067.50" stroke="#000" stroke-width="2.7" />
<line x1="1658.46" y1="1062.20" x2="1658.46" y2="1067.50" stroke="#000" stroke-width="2.7" />
<line x1="1677.87" y1="1062.20" x2="1677.87" y2="1071.70" stroke="#000" stroke-width="3.5" />
<line x1="1693.72" y1="1062.20" x2="1693.72" y2="1067.50" stroke="#000" stroke-width="2.7" />
<line x1="1707.13" y1="1062.20" x2="1707.13" y2="1067.50" stroke="#000" stroke-width="2.7" />
<line x1="1718.74" y1="1062.20" x2="1718.74" y2="1067.50" stroke="#000" stroke-width="2.7" />
<line x1="1728.99" y1="1062.20" x2="1728.99" y2="1067.50" stroke="#000" stroke-width="2.7" />
<line x1="1738.15" y1="1062.20" x2="1738.15" y2="1075.20" stroke="#000" stroke-width="3.6" />
<line x1="1798.43" y1="1062.20" x2="1798.43" y2="1067.50" stroke="#000" stroke-width="2.7" />
<line x1="1833.69" y1="1062.20" x2="1833.69" y2="1067.50" stroke="#000" stroke-width="2.7" />
<line x1="1858.71" y1="1062.20" x2="1858.71" y2="1067.50" stroke="#000" stroke-width="2.7" />
<line x1="1878.12" y1="1062.20" x2="1878.12" y2="1071.70" stroke="#000" stroke-width="3.5" />
<line x1="1893.97" y1="1062.20" x2="1893.97" y2="1067.50" stroke="#000" stroke-width="2.7" />
<line x1="1907.38" y1="1062.20" x2="1907.38" y2="1067.50" stroke="#000" stroke-width="2.7" />
<line x1="1918.99" y1="1062.20" x2="1918.99" y2="1067.50" stroke="#000" stroke-width="2.7" />
<line x1="1929.24" y1="1062.20" x2="1929.24" y2="1067.50" stroke="#000" stroke-width="2.7" />
<line x1="1938.40" y1="1062.20" x2="1938.40" y2="1075.20" stroke="#000" stroke-width="3.6" />
<text x="1532.30" y="1108.6" font-family="'DejaVu Sans', Verdana, sans-serif" font-size="20.2">10<tspan dx="0.9" dy="-14" font-size="20.2">1</tspan></text>
<text x="1732.80" y="1108.6" font-family="'DejaVu Sans', Verdana, sans-serif" font-size="20.2">10<tspan dx="0.9" dy="-14" font-size="20.2">2</tspan></text>
<text x="1904.30" y="1108.6" font-family="'DejaVu Sans', Verdana, sans-serif" font-size="20.2">10<tspan dx="0.9" dy="-14" font-size="20.2">3</tspan></text>
<text x="1544.90" y="1149.70" font-family="'Liberation Sans', Arial, Helvetica, sans-serif" font-size="27.43" font-weight="normal" text-anchor="start" fill="#000" stroke="#000" stroke-width="0.4" >DAF-FM DA Fluorescence</text>
<text transform="translate(1404.70,914.70) rotate(-90)" x="0" y="0" font-family="'Liberation Sans', Arial, Helvetica, sans-serif" font-size="28.07" text-anchor="start" stroke="#000" stroke-width="0.4" >% Total Cells</text>
<rect x="1756.40" y="651.10" width="21.4" height="21.4" fill="#e6f8dd" stroke="#2db51a" stroke-width="2.3"/>
<rect x="1756.40" y="683.40" width="21.4" height="21.4" fill="#d2eaf7" stroke="#86cbea" stroke-width="2.3"/>
<rect x="1756.40" y="713.70" width="21.4" height="21.4" fill="#fde3c4" stroke="#f8b24e" stroke-width="2.3"/>
<text transform="translate(1794.5,669.0) scale(0.935,1)" font-family="'DejaVu Sans', Verdana, sans-serif" font-size="20.4">1 Hour</text>
<text transform="translate(1794.5,700.3) scale(0.935,1)" font-family="'DejaVu Sans', Verdana, sans-serif" font-size="20.4">24 Hour</text>
<text transform="translate(1794.5,731.3) scale(0.935,1)" font-family="'DejaVu Sans', Verdana, sans-serif" font-size="20.4">48 Hour</text>
</svg></body></html>
